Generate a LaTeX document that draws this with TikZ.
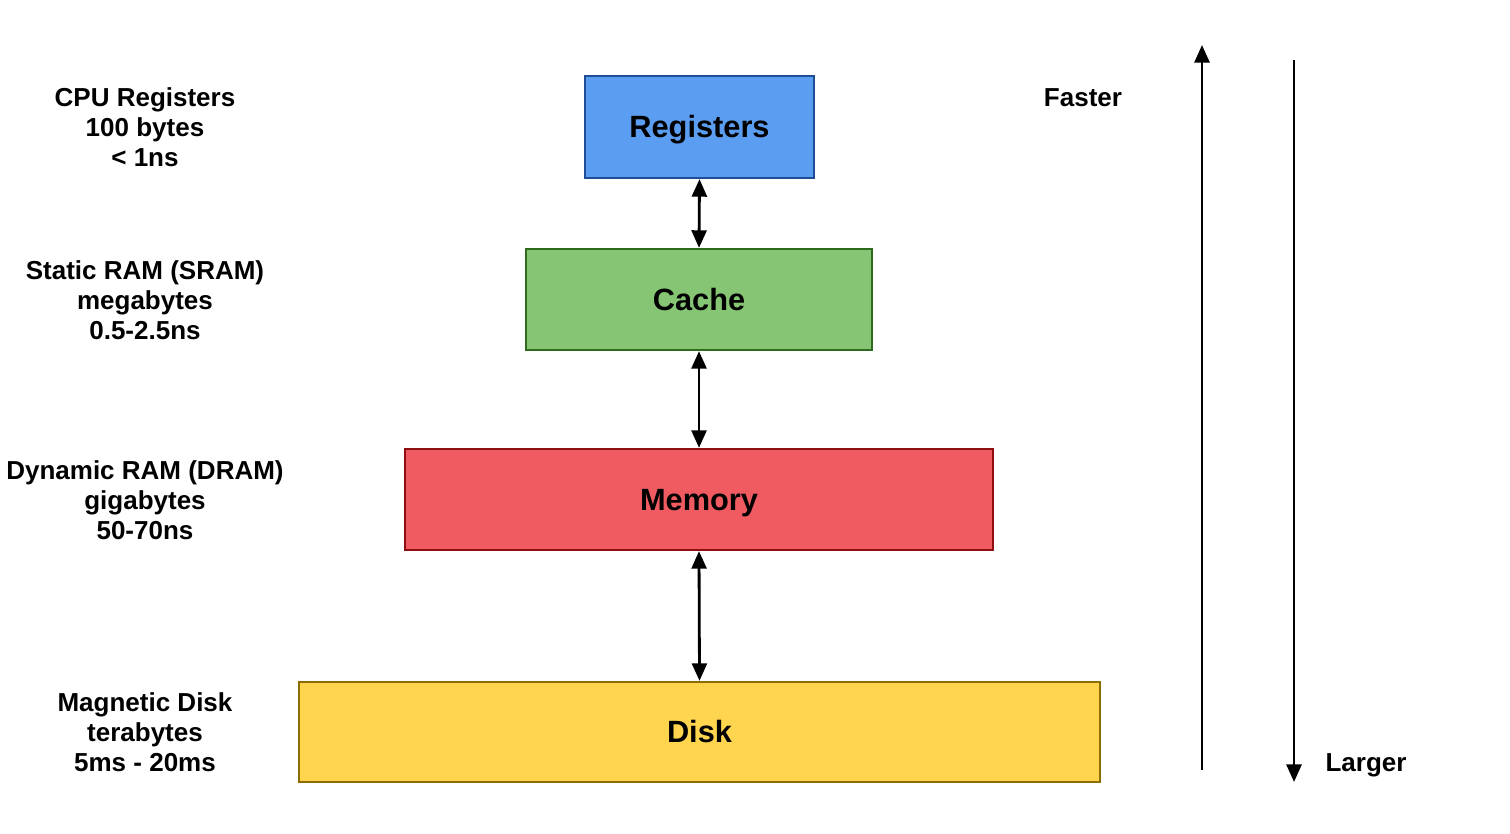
\documentclass[tikz,border=0pt]{standalone}
\usepackage{fontspec}
\setmainfont{Liberation Sans}
\usetikzlibrary{arrows.meta}
\definecolor{regfill}{HTML}{5B9DF0}
\definecolor{regdraw}{HTML}{1F4E96}
\definecolor{cachefill}{HTML}{86C573}
\definecolor{cachedraw}{HTML}{2F6B1E}
\definecolor{memfill}{HTML}{EF5B61}
\definecolor{memdraw}{HTML}{8E0F12}
\definecolor{diskfill}{HTML}{FFD54F}
\definecolor{diskdraw}{HTML}{8C6D00}
\tikzset{
  lvl/.style={draw=#1draw, fill=#1fill, line width=1.3pt, inner sep=0pt,
    font=\fontsize{17.5}{20}\selectfont\bfseries, text height=12.5pt, text depth=0pt},
  side/.style={align=center, font=\fontsize{14.8}{17}\selectfont\bfseries},
  conn/.style={line width=1.6pt, {Triangle[length=10pt,width=8.5pt]}-{Triangle[length=10pt,width=8.5pt]}},
  oneway/.style={line width=1.6pt, -{Triangle[length=10pt,width=8.5pt]}}
}
\begin{document}
\begin{tikzpicture}[x=0.02cm,y=-0.02cm]
\useasboundingbox (0,0) rectangle (1510,834);
\node[lvl=reg, minimum width=229*0.02cm, minimum height=102*0.02cm] (reg) at (699.5,127) {Registers};
\node[lvl=cache, minimum width=346*0.02cm, minimum height=101*0.02cm] (cache) at (699,299.5) {Cache};
\node[lvl=mem, minimum width=588*0.02cm, minimum height=101*0.02cm] (mem) at (699,499.5) {Memory};
\node[lvl=disk, minimum width=801*0.02cm, minimum height=100*0.02cm] (disk) at (699.5,732) {Disk};
\draw[conn] (reg.south) -- (cache.north);
\draw[conn] (cache.south) -- (mem.north);
\draw[conn] (mem.south) -- (disk.north);
\node[side] (l1) at (145,127) {CPU Registers\\100 bytes\\\textless{} 1ns};
\node[side] (l2) at (145,300) {Static RAM (SRAM)\\megabytes\\0.5-2.5ns};
\node[side] (l3) at (145,500) {Dynamic RAM (DRAM)\\gigabytes\\50-70ns};
\node[side] (l4) at (145,732) {Magnetic Disk\\terabytes\\5ms - 20ms};
\node[side] (fast) at (1083,98) {Faster};
\node[side] (large) at (1366,765) {Larger};
\coordinate (fa) at (1202,770);
\coordinate (fb) at (1202,45);
\coordinate (la) at (1294,60);
\coordinate (lb) at (1294,782);
\draw[oneway] (fa) -- (fb);
\draw[oneway] (la) -- (lb);
\end{tikzpicture}
\end{document}
